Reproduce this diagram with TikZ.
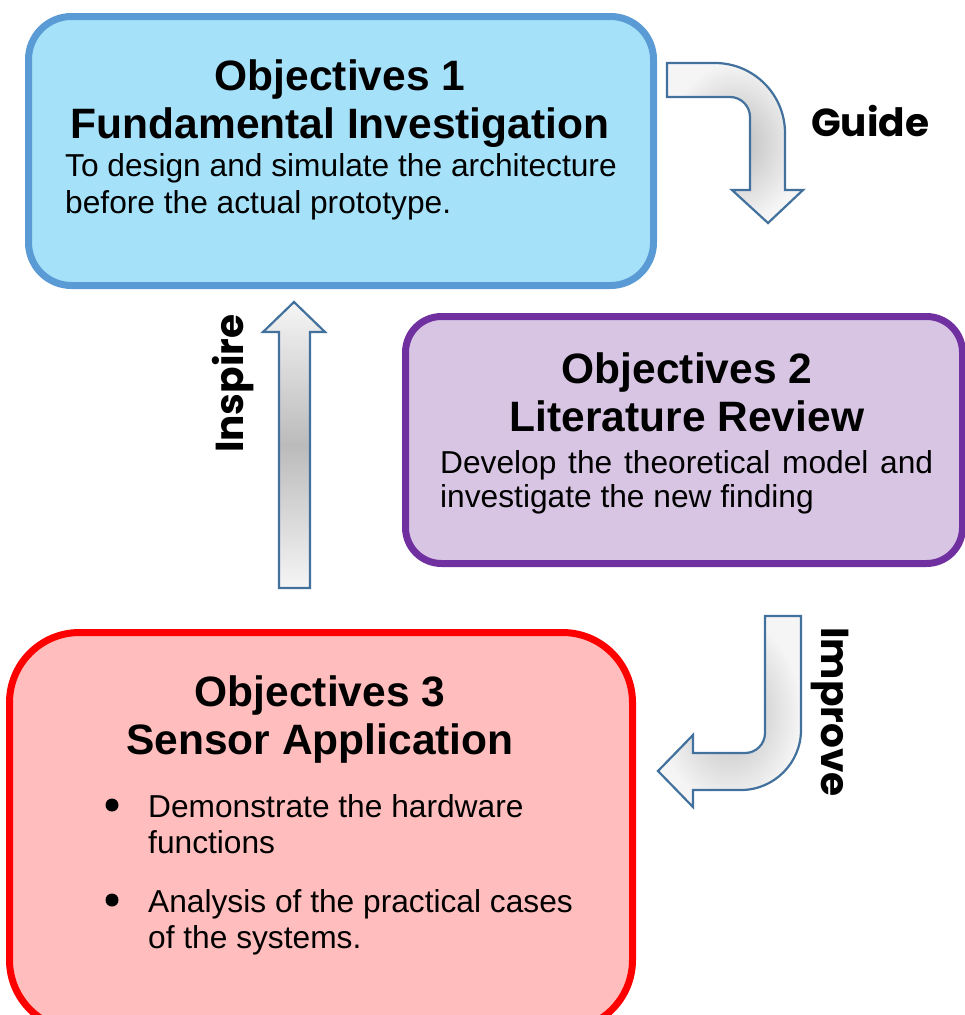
\documentclass[tikz,border=0pt]{standalone}
\usepackage{fontspec}
\setmainfont{Liberation Sans}
\newfontfamily\labelfont{Poppins}
\usetikzlibrary{shapes.misc}

\definecolor{blueline}{HTML}{5B9BD5}
\definecolor{bluefill}{HTML}{A5E1F9}
\definecolor{purpleline}{HTML}{7030A0}
\definecolor{purplefill}{HTML}{D8C5E4}
\definecolor{redline}{HTML}{FF0000}
\definecolor{redfill}{HTML}{FFBDBD}
\definecolor{arrowline}{HTML}{41719C}
\definecolor{arrowlight}{HTML}{F5F5F5}
\definecolor{arrowdark}{HTML}{BBBBBB}

\tikzset{
  objbox/.style={rectangle, draw, line width=7pt, inner sep=0pt},
  title/.style={anchor=base, font=\bfseries\fontsize{42.5}{48}\selectfont, inner sep=0pt},
  bodytext/.style={anchor=base west, font=\fontsize{31.7}{36}\selectfont, inner sep=0pt},
  blockarrow/.style={draw=arrowline, line width=2.2pt, line join=miter},
  bentshade/.style={inner color=arrowdark, outer color=arrowlight},
  flowlabel/.style={inner sep=0pt, font=\labelfont\bfseries\fontsize{39}{44}\selectfont},
  bulletdot/.style={circle, fill=black, inner sep=0pt, minimum size=13pt}
}

\begin{document}
\begin{tikzpicture}[x=1pt, y=-1pt]
\useasboundingbox (0,0) rectangle (965,1015);
\clip (0,0) rectangle (965,1015);

% ---- the three objective boxes ----
\node[objbox, draw=blueline, fill=bluefill, rounded corners=43pt,
      minimum width=625pt, minimum height=269pt] (obj1) at (341,151) {};
\node[objbox, draw=purpleline, fill=purplefill, rounded corners=36pt,
      minimum width=557pt, minimum height=247pt] (obj2) at (684,440) {};
\node[objbox, draw=redline, fill=redfill, rounded corners=70pt,
      minimum width=623pt, minimum height=397.5pt] (obj3) at (321,831.25) {};

% ---- texts of box 1 ----
\node[title] (t1a) at (340,90) {Objectives 1};
\node[title] (t1b) at (340,138) {Fundamental Investigation};
\node[bodytext] (b1a) at (65,176) {To design and simulate the architecture};
\node[bodytext] (b1b) at (65,213) {before the actual prototype.};

% ---- texts of box 2 ----
\node[title] (t2a) at (687,383) {Objectives 2};
\node[title] (t2b) at (687,431) {Literature Review};
\node[bodytext] (b2a) at (440,473) {\makebox[493pt][s]{Develop the theoretical model and}};
\node[bodytext] (b2b) at (440,507) {investigate the new finding};

% ---- texts of box 3 ----
\node[title] (t3a) at (320,706) {Objectives 3};
\node[title] (t3b) at (320,754) {Sensor Application};
\node[bulletdot] (d1) at (112,805) {};
\node[bulletdot] (d2) at (112,900) {};
\node[bodytext] (b3a) at (148,817) {Demonstrate the hardware};
\node[bodytext] (b3b) at (148,853) {functions};
\node[bodytext] (b3c) at (148,912) {Analysis of the practical cases};
\node[bodytext] (b3d) at (148,948) {of the systems.};

% ---- Guide: bent arrow from box 1 down towards box 2 ----
\path[blockarrow, bentshade]
  (667,63) -- (715,63) .. controls (753.6,63) and (785,94.4) .. (785,133)
  -- (785,190) -- (803,190) -- (768,223) -- (732,190) -- (750,190)
  -- (750,117) .. controls (750,106) and (741,97) .. (730,97)
  -- (667,97) -- cycle;
\node[flowlabel, anchor=base west] (guide) at (811,136) {Guide};

% ---- Improve: bent arrow from box 2 down and left to box 3 ----
\path[blockarrow, bentshade]
  (765,616) -- (801,616) -- (801,730) .. controls (801,763) and (774,790) .. (741,790)
  -- (693,790) -- (693,807) -- (658,771) -- (693,735) -- (693,753)
  -- (745,753) .. controls (756,753) and (765,744) .. (765,733) -- cycle;
\node[flowlabel, anchor=base west, rotate=-90] (improve) at (821,627) {Improve};

% ---- Inspire: straight arrow from box 3 up to box 1 ----
\path[blockarrow, top color=arrowlight, bottom color=arrowlight, middle color=arrowdark]
  (279,588) -- (279,332) -- (263,332) -- (294,302) -- (325,332)
  -- (310,332) -- (310,588) -- cycle;
\node[flowlabel, anchor=base west, rotate=90] (inspire) at (243,453) {Inspire};
\end{tikzpicture}
\end{document}
